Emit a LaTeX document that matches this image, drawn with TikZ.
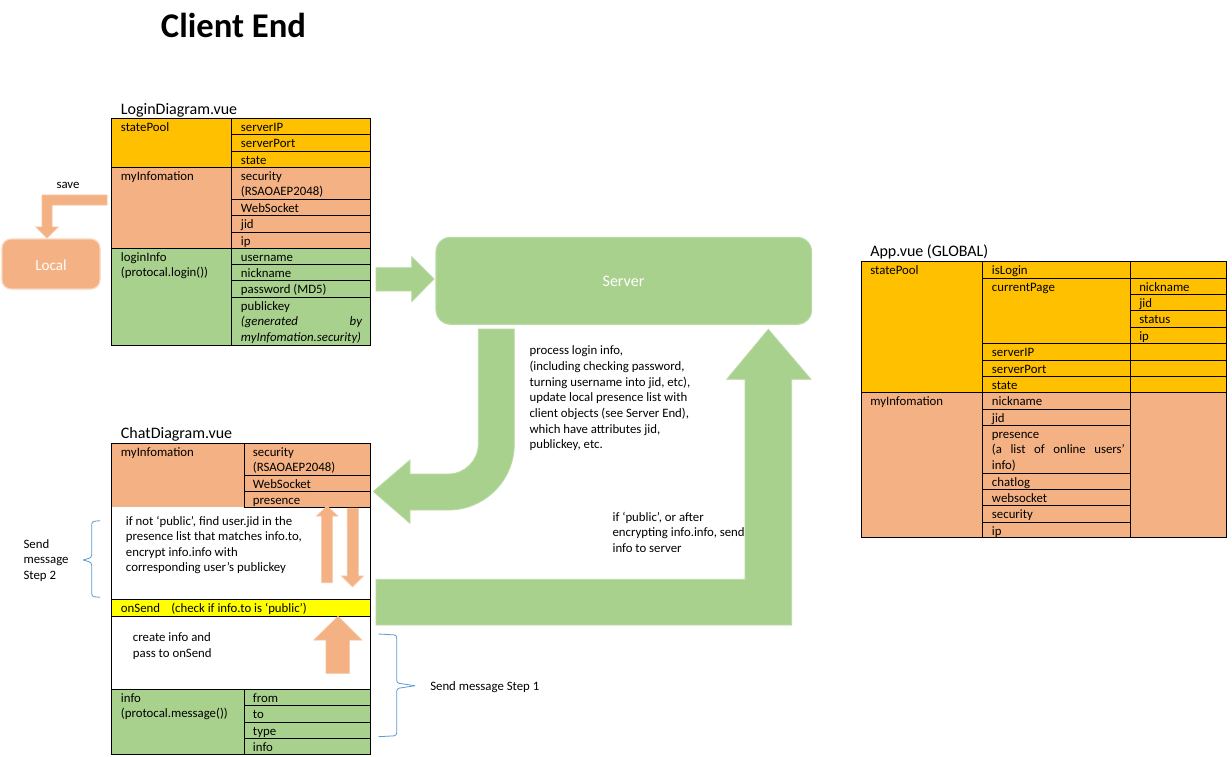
\documentclass[tikz,border=0pt]{standalone}
\usepackage{fontspec}
\setmainfont{Carlito}
\definecolor{gold}{HTML}{FFC000}
\definecolor{salmon}{HTML}{F4B183}
\definecolor{lgreen}{HTML}{A9D18E}
\definecolor{hiyellow}{HTML}{FFFF00}
\definecolor{braceblue}{HTML}{5B9BD5}
\newcommand\celltext[4]{\node[tx] (#1) at (#2,#3) {#4};}
\begin{document}
\begin{tikzpicture}[x=0.75pt,y=-0.75pt,
  tx/.style={anchor=base west, inner sep=0pt, font=\fontsize{9.6}{11.6}\selectfont},
  ttl/.style={anchor=base west, inner sep=0pt, font=\fontsize{12}{14}\selectfont},
  tbl/.style={line width=0.7pt, draw=black},
  garrow/.style={fill=lgreen, draw=lgreen!80!white, line width=0.6pt},
  oarrow/.style={fill=salmon, draw=salmon!80!white, line width=0.6pt},
  bracestyle/.style={draw=braceblue, line width=0.6pt, rounded corners=2pt}]
\useasboundingbox (0,0) rectangle (1232,757);
\fill[white] (0,0) rectangle (1232,757);

% title
\node[anchor=base, inner sep=0pt, font=\bfseries\fontsize{26}{30}\selectfont] (title) at (233.5,37) {Client End};

% ---------------- Login table ----------------
\node[ttl] (logintitle) at (120.7,114) {LoginDiagram.vue};
\fill[gold] (111,118.3) rectangle (370,167.3);
\fill[salmon] (111,167.3) rectangle (370,248.3);
\fill[lgreen] (111,248.3) rectangle (370,345);
\draw[tbl] (111,118.3) rectangle (370,345);
\draw[tbl] (231.7,118.3) -- (231.7,345);
\draw[tbl] (111,167.3) -- (370,167.3) (111,248.3) -- (370,248.3);
\foreach \y in {134.6,151,199.3,215.7,232,264.3,280.7,297.3} \draw[tbl] (231.7,\y) -- (370,\y);
\celltext{l1}{120.7}{131.3}{statePool}
\celltext{l2}{240.7}{131.3}{serverIP}
\celltext{l3}{240.7}{147.6}{serverPort}
\celltext{l4}{240.7}{164}{state}
\celltext{l5}{120.7}{180.3}{myInfomation}
\celltext{l6}{240.7}{180.3}{security}
\celltext{l7}{240.7}{195.5}{(RSAOAEP2048)}
\celltext{l8}{240.7}{212.3}{WebSocket}
\celltext{l9}{240.7}{228.7}{jid}
\celltext{l10}{240.7}{245}{ip}
\celltext{l11}{120.7}{261.3}{loginInfo}
\celltext{l12}{120.7}{276.8}{(protocal.login())}
\celltext{l13}{240.7}{261.3}{username}
\celltext{l14}{240.7}{277.3}{nickname}
\celltext{l15}{240.7}{293.7}{password (MD5)}
\celltext{l16}{240.7}{310.3}{publickey}
\celltext{l17}{240.7}{325.7}{\itshape\makebox[90.75pt][s]{(generated by}}
\celltext{l18}{240.7}{341.1}{\itshape myInfomation.security)}

% save arrow and Local
\draw[oarrow] (107,195) -- (42,195) -- (42,227) -- (36,227) -- (47,238) -- (58,227) -- (52,227) -- (52,205) -- (107,205) -- cycle;
\node[anchor=base, inner sep=0pt, font=\fontsize{9.6}{11.6}\selectfont] (save) at (68,188.3) {save};
\draw[fill=salmon, draw=salmon!55!white, line width=0.9pt, rounded corners=7pt] (2,239) rectangle (100,289);
\node[text=white, font=\fontsize{11.4}{13}\selectfont, inner sep=0pt] (local) at (51,265) {Local};

% login -> server arrow
\draw[garrow] (376,267.7) -- (411.7,267.7) -- (411.7,256.7) -- (434,279) -- (411.7,301.7) -- (411.7,291) -- (376,291) -- cycle;

% Server
\draw[fill=lgreen, draw=lgreen!80!white, line width=0.8pt, rounded corners=11pt] (436,237.3) rectangle (811.7,324.3);
\node[text=white, font=\fontsize{12}{14}\selectfont, inner sep=0pt] (server) at (623.5,281) {Server};

% server -> chat curved arrow
\draw[garrow] (478.3,329) -- (478.3,444) arc[start angle=0, end angle=90, radius=30] -- (410,474) -- (410,460) -- (373.3,491.5) -- (410,523.3) -- (410,510) -- (448.3,510) arc[start angle=90, end angle=0, radius=66] -- (514.3,329) -- cycle;

% middle texts
\node[tx, anchor=north west, align=left, font=\fontsize{9.6}{11.78}\selectfont] (proc) at (529.3,345.5) {process login info,\\(including checking password,\\turning username into jid, etc),\\update local presence list with\\client objects (see Server End),\\which have attributes jid,\\publickey, etc.};
\node[tx, anchor=north west, align=left, font=\fontsize{9.6}{11.78}\selectfont] (pub) at (612.3,511.5) {if ‘public’, or after\\encrypting info.info, send\\info to server};

% chat -> server big arrow
\draw[garrow] (376,579.3) -- (745,579.3) -- (745,379.3) -- (726.7,379.3) -- (768.3,329.3) -- (811,379.3) -- (791.7,379.3) -- (791.7,625) -- (376,625) -- cycle;

% ---------------- Chat table ----------------
\node[ttl] (chattitle) at (120.7,438.3) {ChatDiagram.vue};
\fill[salmon] (111,443.3) rectangle (370,507.3);
\fill[hiyellow] (111,599) rectangle (370,616);
\fill[lgreen] (111,689) rectangle (370,754.3);
\draw[tbl] (111,443.3) rectangle (370,754.3);
\draw[tbl] (244.3,443.3) -- (244.3,507.3) (244.3,689) -- (244.3,754.3);
\foreach \y in {475.7,491,507.3} \draw[tbl] (244.3,\y) -- (370,\y);
\foreach \y in {599,616,689} \draw[tbl] (111,\y) -- (370,\y);
\foreach \y in {705.7,722.3,738.3} \draw[tbl] (244.3,\y) -- (370,\y);
\celltext{c1}{120.7}{456.3}{myInfomation}
\celltext{c2}{252.7}{456.3}{security}
\celltext{c3}{252.7}{471.5}{(RSAOAEP2048)}
\celltext{c4}{252.7}{488.7}{WebSocket}
\celltext{c5}{252.7}{504}{presence}
\celltext{c6}{125.7}{525.3}{if not ‘public’, find user.jid in the}
\celltext{c7}{125.7}{540.8}{presence list that matches info.to,}
\celltext{c8}{125.7}{556.3}{encrypt info.info with}
\celltext{c9}{125.7}{571.8}{corresponding user’s publickey}
\celltext{c10}{120.7}{612}{onSend}
\celltext{c11}{171}{612}{(check if info.to is ‘public’)}
\celltext{c12}{132.7}{641.3}{create info and}
\celltext{c13}{132.7}{657.3}{pass to onSend}
\celltext{c14}{120.7}{702}{info}
\celltext{c15}{120.7}{717.5}{(protocal.message())}
\celltext{c16}{252.7}{702}{from}
\celltext{c17}{252.7}{718.5}{to}
\celltext{c18}{252.7}{735}{type}
\celltext{c19}{252.7}{751.2}{info}

% orange arrows
\draw[oarrow] (321.7,582.7) -- (321.7,516) -- (316.7,516) -- (327,506) -- (337.7,516) -- (332.3,516) -- (332.3,582.7) -- cycle;
\draw[oarrow] (347.3,508.3) -- (347.3,576) -- (341.7,576) -- (352.5,586.7) -- (363.3,576) -- (358.3,576) -- (358.3,508.3) -- cycle;
\draw[oarrow] (326,673.3) -- (326,640) -- (314,640) -- (338,616.5) -- (361.7,640) -- (349.3,640) -- (349.3,673.3) -- cycle;

% braces
\draw[bracestyle] (100,520.7) -- (91.7,521.5) -- (91.7,557.5) -- (83.3,560);
\draw[bracestyle] (83.3,560) -- (91.7,562.5) -- (91.7,596.5) -- (100,597.3);
\node[tx, anchor=north west, align=left, font=\fontsize{9.6}{11.7}\selectfont] (step2) at (23.3,539) {Send\\message\\Step 2};
\draw[bracestyle] (378.3,634) -- (396.7,635) -- (396.7,683) -- (415,685.7);
\draw[bracestyle] (415,685.7) -- (396.7,688.5) -- (396.7,735.7) -- (378.3,736.7);
\celltext{step1}{430}{690.3}{Send message Step 1}

% ---------------- App table ----------------
\node[ttl] (apptitle) at (870,256) {App.vue (GLOBAL)};
\fill[gold] (861.7,261.7) rectangle (1226,392.7);
\fill[salmon] (861.7,392.7) rectangle (1226,537.7);
\draw[tbl] (861.7,261.7) rectangle (1226,537.7);
\draw[tbl] (982.7,261.7) -- (982.7,537.7) (1130.7,261.7) -- (1130.7,537.7);
\draw[tbl] (861.7,392.7) -- (1226,392.7);
\foreach \y in {278.3,343.3,360,376.7} \draw[tbl] (982.7,\y) -- (1226,\y);
\foreach \y in {294.3,310.7,327.3} \draw[tbl] (1130.7,\y) -- (1226,\y);
\foreach \y in {409,425,473.3,489.3,505.7,522.3} \draw[tbl] (982.7,\y) -- (1130.7,\y);
\celltext{a1}{870}{274.7}{statePool}
\celltext{a2}{991.7}{274.7}{isLogin}
\celltext{a3}{991.7}{291.3}{currentPage}
\celltext{a4}{1139}{291.3}{nickname}
\celltext{a5}{1139}{307.3}{jid}
\celltext{a6}{1139}{323.7}{status}
\celltext{a7}{1139}{340.3}{ip}
\celltext{a8}{991.7}{356.3}{serverIP}
\celltext{a9}{991.7}{373}{serverPort}
\celltext{a10}{991.7}{389.7}{state}
\celltext{a11}{870}{405.7}{myInfomation}
\celltext{a12}{991.7}{405.7}{nickname}
\celltext{a13}{991.7}{422}{jid}
\celltext{a14}{991.7}{438}{presence}
\celltext{a15}{991.7}{453.5}{\makebox[99.75pt][s]{(a list of online users’}}
\celltext{a16}{991.7}{469}{info)}
\celltext{a17}{991.7}{486.3}{chatlog}
\celltext{a18}{991.7}{502.3}{websocket}
\celltext{a19}{991.7}{518.7}{security}
\celltext{a20}{991.7}{535.3}{ip}
\end{tikzpicture}
\end{document}
